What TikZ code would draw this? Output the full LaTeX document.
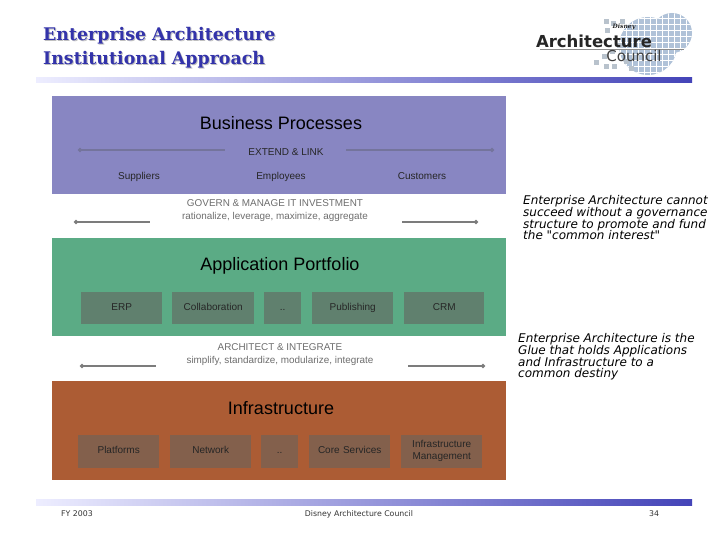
\documentclass[tikz,border=0pt]{standalone}
\usepackage{fontspec}
\setmainfont{Liberation Sans}
\newfontfamily\ftitle{DejaVu Serif}
\newfontfamily\fverd{DejaVu Sans}
\usetikzlibrary{shadings,arrows.meta}
\definecolor{cblue}{HTML}{8886C2}
\definecolor{cgreen}{HTML}{5BAB85}
\definecolor{cbrown}{HTML}{AC5C34}
\definecolor{bgreen}{HTML}{60806E}
\definecolor{bbrown}{HTML}{83604C}
\definecolor{titleblue}{HTML}{3333AA}
\definecolor{barblue}{HTML}{4444B8}
\definecolor{line}{HTML}{7C7C7C}
\definecolor{lineb}{HTML}{74749C}
\definecolor{grytxt}{HTML}{6E6E6E}
\definecolor{logoblue}{HTML}{B0C2D8}
\definecolor{logosq}{HTML}{B8C2CC}
\tikzset{
  gbox/.style={fill=bgreen,inner sep=0,anchor=north west,text width=#1,align=center,minimum height=32,minimum width=#1,font=\fontsize{10}{12}\selectfont,text=black!85,execute at begin node=\strut,execute at end node=\strut},
  bbox/.style={fill=bbrown,inner sep=0,anchor=north west,text width=#1,align=center,minimum height=33,minimum width=#1,font=\fontsize{10}{12.5}\selectfont,text=black!85,execute at begin node=\strut,execute at end node=\strut},
  head/.style={font=\fontsize{18}{20}\selectfont,text=black},
  small/.style={font=\fontsize{10}{12}\selectfont,text=black!85,text height=7.2,text depth=2.2},
  gtext/.style={font=\fontsize{9.9}{13}\selectfont,text=grytxt,align=center},
  conn/.style={draw=line,line width=1.7,{Circle[length=4,width=4]}-},
  connb/.style={draw=lineb,line width=1.7,{Circle[length=4,width=4]}-},
  note/.style={font=\fontsize{12}{11.7}\fverd\itshape\selectfont,align=left,anchor=north west,inner sep=0,text=black},
  foot/.style={font=\fontsize{7.8}{10}\fverd\selectfont,text=black!80},
  ttl/.style={font=\fontsize{17.4}{24}\ftitle\bfseries\selectfont,align=left,anchor=north west,inner sep=0},
}
\begin{document}
\begin{tikzpicture}[x=1pt,y=-1pt]
\setlength{\lineskiplimit}{-20pt}
\useasboundingbox (0,0) rectangle (720,540);
\fill[white] (0,0) rectangle (720,540);
% title
\node[ttl,text=black!25] (titleS) at (44,28) {Enterprise Architecture\\Institutional Approach};
\node[ttl,text=titleblue] (title) at (43,27) {Enterprise Architecture\\Institutional Approach};
% rules
\shade[left color=blue!7,right color=barblue] (36,78) rectangle (692,83);
\shade[left color=blue!7,right color=barblue] (36,499) rectangle (692,505);
% logo
\begin{scope}
\clip (672,33) circle (20) (648,46) circle (29);
\fill[logoblue] (590,10) rectangle (700,80);
\foreach \x in {602,608,...,692} \draw[white,line width=.6] (\x,10) -- (\x,80);
\foreach \y in {12,18,...,78} \draw[white,line width=.6] (590,\y) -- (700,\y);
\end{scope}
\foreach \p in {(606,22),(613,24),(607,31),(622,22),(619,46),(612,52),(604,57),(596,63),(606,67),(614,67),(631,69),(626,62)}
  \fill[logosq] \p ++(-2.5,-2.5) rectangle ++(5,5);
\draw[black!45,line width=.4] (540,49) -- (684,49);
\node[inner sep=0,font=\fontsize{16.5}{18}\fverd\bfseries\selectfont,text=black!85] (logoA) at (594,41) {Architecture};
\node[inner sep=0,font=\fontsize{15}{16}\fverd\selectfont,text=black!75] (logoC) at (634,56) {Council};
\node[inner sep=0,font=\fontsize{6}{7}\ftitle\bfseries\itshape\selectfont,text=black!85] (logoD) at (624,27) {Disney};
% bands
\fill[cblue] (52,96) rectangle (506,194);
\fill[cgreen] (52,238) rectangle (506,336);
\fill[cbrown] (52,381) rectangle (506,480);
% band 1
\node[head] (bp) at (281,123) {Business Processes};
\node[small] (ext) at (286,153) {EXTEND \& LINK};
\coordinate (e1) at (78,150); \coordinate (e2) at (225,150);
\coordinate (e3) at (494,150); \coordinate (e4) at (346,150);
\draw[connb] (e1) -- (e2);
\draw[connb] (e3) -- (e4);
\node[small] (sup) at (139,177) {Suppliers};
\node[small] (emp) at (281,177) {Employees};
\node[small] (cus) at (422,177) {Customers};
% govern
\node[gtext] (gov) at (275,210.5) {GOVERN \& MANAGE IT INVESTMENT\\rationalize, leverage, maximize, aggregate};
\coordinate (g1) at (74,222); \coordinate (g2) at (150,222);
\coordinate (g3) at (478,222); \coordinate (g4) at (402,222);
\draw[conn] (g1) -- (g2);
\draw[conn] (g3) -- (g4);
% band 2
\node[head] (ap) at (280,265.5) {Application Portfolio};
\node[gbox=81] (erp) at (81,292) {ERP};
\node[gbox=82] (col) at (172,292) {Collaboration};
\node[gbox=37] (dg) at (264,292) {..};
\node[gbox=81] (pub) at (312,292) {Publishing};
\node[gbox=80] (crm) at (404,292) {CRM};
% architect
\node[gtext] (arc) at (280,355) {ARCHITECT \& INTEGRATE\\simplify, standardize, modularize, integrate};
\coordinate (a1) at (80,366); \coordinate (a2) at (156,366);
\coordinate (a3) at (485,366); \coordinate (a4) at (408,366);
\draw[conn] (a1) -- (a2);
\draw[conn] (a3) -- (a4);
% band 3
\node[head] (inf) at (281,408) {Infrastructure};
\node[bbox=81] (pla) at (78,434.5) {Platforms};
\node[bbox=81] (net) at (170,434.5) {Network};
\node[bbox=37] (db) at (261,434.5) {..};
\node[bbox=81] (cor) at (309,434.5) {Core Services};
\node[bbox=81] (mgt) at (401,434.5) {Infrastructure\\Management};
% notes
\node[note] (n1) at (523,195.5) {Enterprise Architecture cannot\\succeed without a governance\\structure to promote and fund\\the "common interest"};
\node[note] (n2) at (518,333.5) {Enterprise Architecture is the\\Glue that holds Applications\\and Infrastructure to a\\common destiny};
% footer
\node[foot] (fy) at (77,514) {FY 2003};
\node[foot] (dac) at (359,514) {Disney Architecture Council};
\node[foot] (pg) at (654,514) {34};
\end{tikzpicture}
\end{document}
